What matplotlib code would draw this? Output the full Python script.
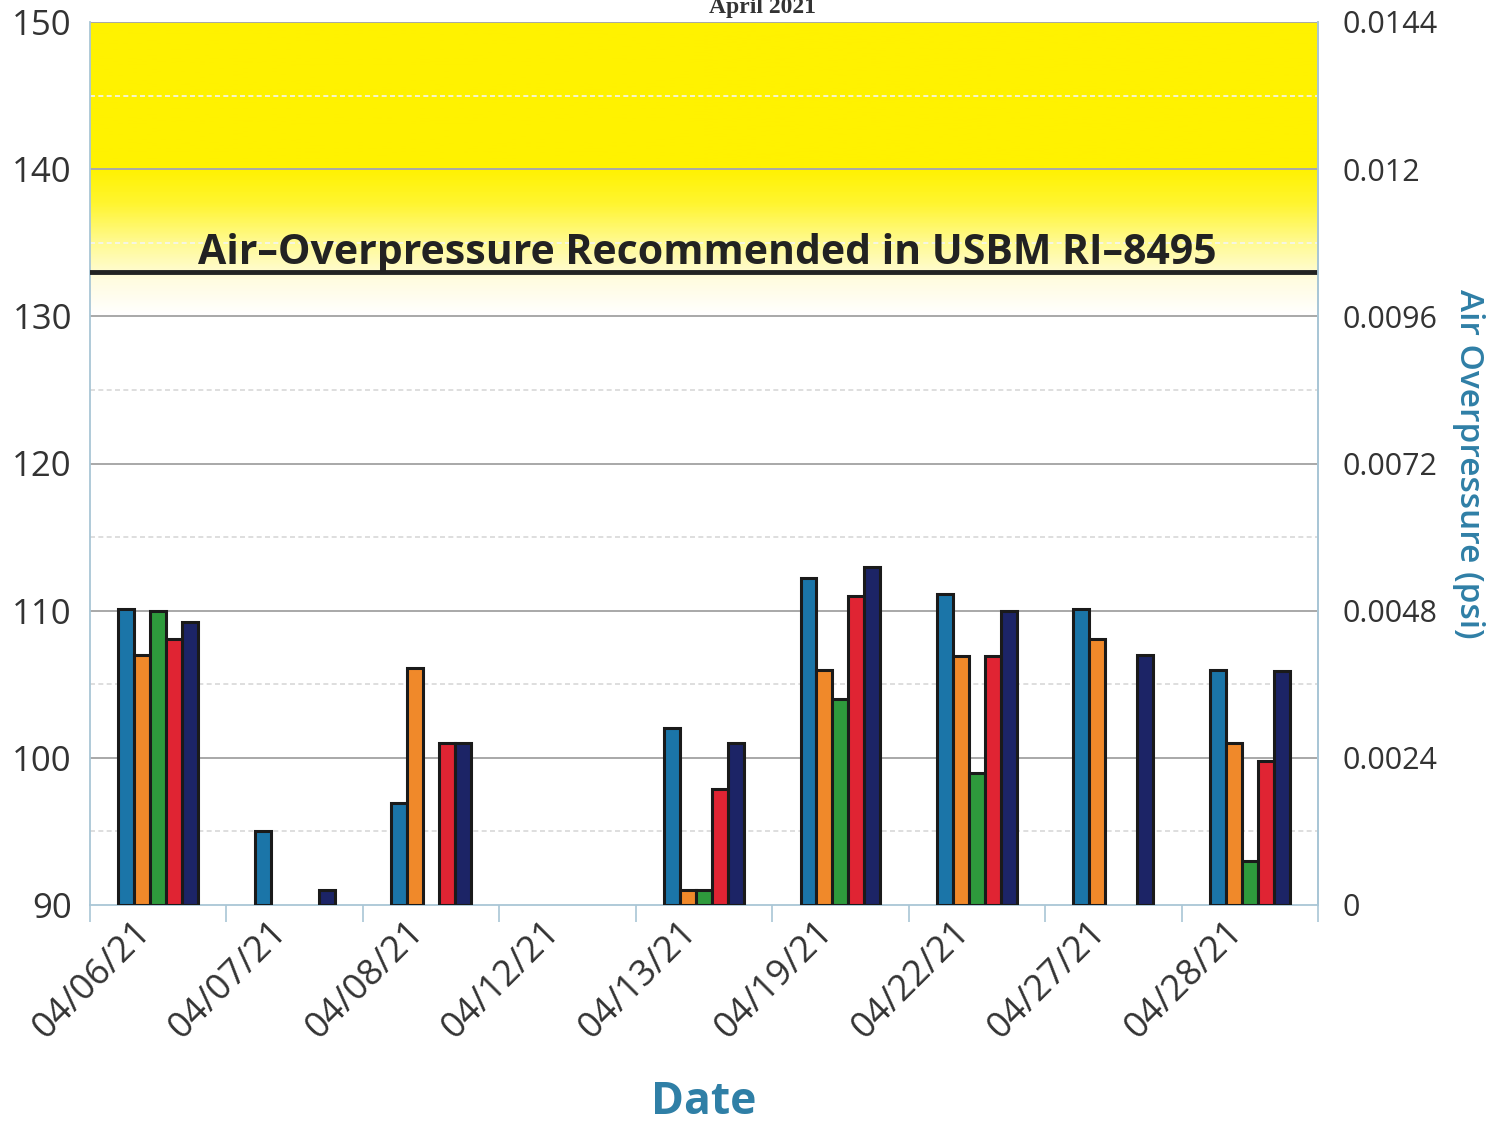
import numpy as np
import matplotlib
matplotlib.use("Agg")
import matplotlib.pyplot as plt
from matplotlib.colors import LinearSegmentedColormap

# --- data (dB) ---
dates = ["04/06/21", "04/07/21", "04/08/21", "04/12/21", "04/13/21",
         "04/19/21", "04/22/21", "04/27/21", "04/28/21"]
nan = np.nan
series_blue = [110.1, 95.0, 96.9, nan, 102.0, 112.2, 111.1, 110.1, 106.0]
series_orange = [107.0, nan, 106.1, nan, 91.0, 106.0, 106.9, 108.1, 101.0]
series_green = [110.0, nan, nan, nan, 91.0, 104.0, 99.0, nan, 93.0]
series_red = [108.1, nan, 101.0, nan, 97.9, 111.0, 106.9, nan, 99.8]
series_navy = [109.2, 91.0, 101.0, nan, 101.0, 113.0, 110.0, 107.0, 105.9]

limit_db = 133
psi_ticks = ["0", "0.0024", "0.0048", "0.0072", "0.0096", "0.012", "0.0144"]

all_series = [series_blue, series_orange, series_green, series_red, series_navy]
colors = ["#1b75a8", "#f0892a", "#2e9a3c", "#e02433", "#1c2466"]
teal = "#2f7fa6"
axis_col = "#a9c6d6"

plt.rcParams['font.family'] = ['Open Sans', 'DejaVu Sans']

fig = plt.figure(figsize=(15.1, 11.25), dpi=100)
ax = fig.add_axes([90 / 1510, 1 - 905 / 1125, 1228 / 1510, 883 / 1125])

x = np.arange(len(dates))
ax.set_xlim(-0.5, len(dates) - 0.5)
ax.set_ylim(90, 150)

# yellow band, fading out just below the limit line
grad_cmap = LinearSegmentedColormap.from_list(
    "yel", [(0.0, "#ffffff"), (0.12, "#fffce0"), (0.25, "#fffa90"),
            (0.38, "#fff530"), (0.5, "#fff200"), (1.0, "#fff200")])
ys = np.linspace(130, 150, 200).reshape(-1, 1)
ax.imshow(ys, extent=(-0.5, len(dates) - 0.5, 130, 150), origin="lower",
          cmap=grad_cmap, aspect="auto", zorder=0)

# gridlines
for yv in range(100, 151, 10):
    ax.axhline(yv, color="#a8a8a8", lw=1.4, zorder=1)
for yv in range(95, 150, 10):
    c = "#f4f4f4" if yv > 131 else "#d8d8d8"
    ax.axhline(yv, color=c, lw=1.2, ls=(0, (3, 2)), zorder=1)

# bars
bw = 0.117
for i, (vals, c) in enumerate(zip(all_series, colors)):
    vals = np.array(vals)
    ax.bar(x + (i - 2) * bw, vals - 90, bottom=90, width=bw, color=c,
           edgecolor="#1a1a1a", linewidth=2.2, zorder=3)

# limit line and label
ax.axhline(limit_db, color="#222222", lw=3.5, zorder=4)
ax.text(0.29, 133.55, "Air\u2013Overpressure Recommended in USBM RI\u20138495",
        fontsize=29.5, fontweight="bold", color="#222222", va="baseline", ha="left", zorder=5)

# x axis: labels at centres, ticks at boundaries
ax.set_xticks(x)
ax.set_xticklabels(dates, rotation=45, ha="right", va="bottom", rotation_mode="anchor",
                   fontsize=26, color="#333333")
ax.tick_params(axis="x", which="major", length=0, pad=25)
ax.set_xticks(np.arange(-0.5, len(dates) + 0.5, 1), minor=True)
ax.tick_params(axis="x", which="minor", length=12, color=axis_col, width=1.2)
ax.set_xlabel("Date", fontsize=32, fontweight="bold", color=teal, labelpad=24)

ax.set_yticks(range(90, 151, 10))
ax.tick_params(axis="y", length=0, labelsize=25, labelcolor="#333333", pad=13)

for side in ["left", "bottom", "right"]:
    ax.spines[side].set_color(axis_col)
    ax.spines[side].set_linewidth(1.3)
ax.spines["top"].set_visible(False)

# right axis in psi
ax2 = ax.twinx()
ax2.set_ylim(90, 150)
ax2.set_yticks(range(90, 151, 10))
ax2.set_yticklabels(psi_ticks)
ax2.tick_params(axis="y", length=0, labelsize=22, labelcolor="#333333", pad=18)
ax2.set_ylabel("Air Overpressure (psi)", rotation=270, fontsize=24, fontweight="semibold",
               color=teal, labelpad=34)
for side in ["left", "bottom", "top"]:
    ax2.spines[side].set_visible(False)
ax2.spines["right"].set_color(axis_col)
ax2.spines["right"].set_linewidth(1.3)

fig.text(0.505, 1 - 13 / 1125, "April 2021", fontsize=17, fontweight="bold",
         family=["Liberation Serif", "DejaVu Serif"], color="#333333",
         ha="center", va="baseline")

fig.savefig("out.png", dpi=100)
